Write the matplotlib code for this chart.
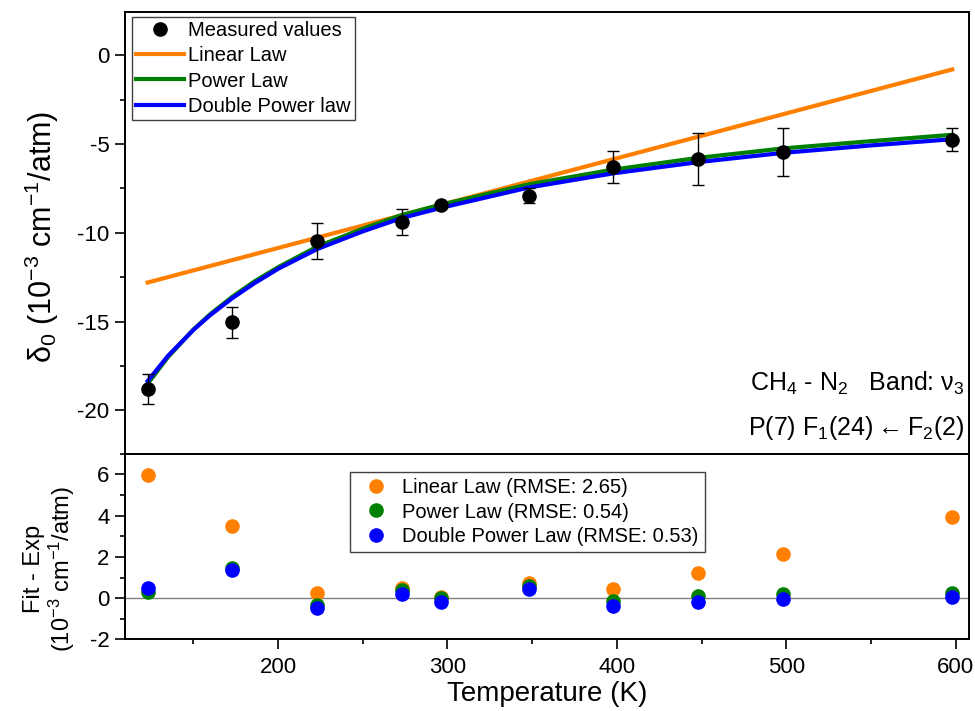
import matplotlib
matplotlib.use('Agg')
import matplotlib.pyplot as plt
from matplotlib.ticker import MultipleLocator

plt.rcParams['font.family'] = ['Liberation Sans', 'DejaVu Sans']
plt.rcParams['mathtext.default'] = 'regular'
plt.rcParams['axes.unicode_minus'] = False

# measured pressure shift, CH4 - N2, P(7) F1(24) <- F2(2) line of nu3
temps = [123, 173, 223, 273, 296, 348, 398, 448, 498, 598]
shift = [-18.8, -15.05, -10.45, -9.4, -8.45, -7.9, -6.3, -5.85, -5.45, -4.75]
shift_err = [0.83, 0.85, 1.0, 0.72, 0.15, 0.4, 0.92, 1.47, 1.37, 0.64]

# fitted temperature laws
linear_T = [123, 598]
linear_fit = [-12.8, -0.8]
curve_T = [123, 135, 150, 160, 173, 186, 200, 223, 250, 273, 296, 348, 398, 448, 498, 550, 598]
power_fit = [-18.5, -17.0, -15.45, -14.58, -13.6, -12.74, -11.94, -10.78, -9.77, -9.0,
             -8.42, -7.27, -6.44, -5.78, -5.25, -4.84, -4.48]
dpower_fit = [-18.35, -16.93, -15.47, -14.63, -13.68, -12.84, -12.03, -10.92, -9.92, -9.17,
              -8.6, -7.45, -6.65, -6.02, -5.5, -5.08, -4.73]

# residuals (fit - exp)
res_linear = [5.99, 3.51, 0.24, 0.49, 0.06, 0.74, 0.44, 1.24, 2.12, 3.93]
res_power = [0.29, 1.46, -0.33, 0.40, 0.0, 0.6, -0.16, 0.08, 0.21, 0.27]
res_dpower = [0.49, 1.37, -0.49, 0.21, -0.18, 0.45, -0.37, -0.2, -0.05, 0.03]

ORANGE = '#ff8000'
GREEN = '#008000'
BLUE = '#0000ff'

fig = plt.figure(figsize=(9.75, 7.11), dpi=100)
gs = fig.add_gridspec(2, 1, height_ratios=[441, 185], hspace=0,
                      left=0.128, right=0.994, top=0.9835, bottom=0.1008)
ax = fig.add_subplot(gs[0])
axr = fig.add_subplot(gs[1], sharex=ax)

# top panel: data and fits
ax.plot(linear_T, linear_fit, color=ORANGE, lw=3, label='Linear Law', zorder=2)
ax.plot(curve_T, power_fit, color=GREEN, lw=3, label='Power Law', zorder=3)
ax.plot(curve_T, dpower_fit, color=BLUE, lw=3, label='Double Power law', zorder=4)
ax.errorbar(temps, shift, yerr=shift_err, fmt='none', ecolor='black',
            elinewidth=1, capsize=4, capthick=1, zorder=5)
ax.plot(temps, shift, 'o', color='black', ms=9.5, label='Measured values', zorder=6)

h, l = ax.get_legend_handles_labels()
order = [3, 0, 1, 2]
leg = ax.legend([h[i] for i in order], [l[i] for i in order], loc='upper left',
                bbox_to_anchor=(0.0083, 0.989), borderaxespad=0, fontsize=14.5,
                frameon=True, fancybox=False, edgecolor='#404040', framealpha=1,
                handlelength=2.4, handletextpad=0.2, borderpad=0.2, labelspacing=0.32)
leg.get_frame().set_linewidth(1)

ax.text(0.994, 0.159, r'CH$_4$ - N$_2$   Band: $\nu_3$', transform=ax.transAxes,
        ha='right', va='center', fontsize=18)
ax.text(0.994, 0.059, r'P(7) F$_1$(24)$\leftarrow$F$_2$(2)', transform=ax.transAxes,
        ha='right', va='center', fontsize=18)

ax.set_ylim(-22.45, 2.45)
ax.yaxis.set_major_locator(MultipleLocator(5))
ax.yaxis.set_minor_locator(MultipleLocator(2.5))
ax.set_ylabel(r'$\delta_0$ (10$^{-3}$ cm$^{-1}$/atm)', fontsize=22)
ax.yaxis.set_label_coords(-0.075, 0.49)
ax.tick_params(axis='x', labelbottom=False)

# bottom panel: residuals
axr.axhline(0, color='#808080', lw=1, zorder=1)
axr.plot(temps, res_linear, 'o', color=ORANGE, ms=9.5, label='Linear Law (RMSE: 2.65)', zorder=3)
axr.plot(temps, res_power, 'o', color=GREEN, ms=9.5, label='Power Law (RMSE: 0.54)', zorder=4)
axr.plot(temps, res_dpower, 'o', color=BLUE, ms=9.5, label='Double Power Law (RMSE: 0.53)', zorder=5)
leg2 = axr.legend(loc='upper left', bbox_to_anchor=(0.2666, 0.903), borderaxespad=0,
                  fontsize=14.5, frameon=True, fancybox=False, edgecolor='#404040',
                  framealpha=1, handlelength=2.0, handletextpad=0.3, borderpad=0.3,
                  labelspacing=0.28)
leg2.get_frame().set_linewidth(1)

axr.set_ylim(-2, 7)
axr.yaxis.set_major_locator(MultipleLocator(2))
axr.yaxis.set_minor_locator(MultipleLocator(1))
axr.set_xlim(109.5, 608)
axr.xaxis.set_major_locator(MultipleLocator(100))
axr.xaxis.set_minor_locator(MultipleLocator(50))
axr.set_xlabel('Temperature (K)', fontsize=20, labelpad=2)
axr.set_ylabel('Fit - Exp\n(10$^{-3}$ cm$^{-1}$/atm)', fontsize=17, linespacing=1.05)
axr.yaxis.set_label_coords(-0.057, 0.38)

for a in (ax, axr):
    for s in a.spines.values():
        s.set_linewidth(1.4)
    a.tick_params(which='major', direction='out', length=7, width=1.2, labelsize=16, pad=4)
    a.tick_params(which='minor', direction='out', length=3.6, width=1.2)
axr.tick_params(axis='x', which='major', pad=6)

fig.savefig('out.png', dpi=100)
